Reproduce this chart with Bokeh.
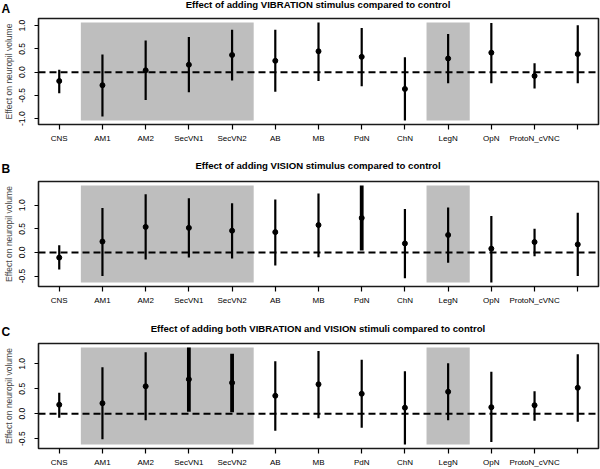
from bokeh.plotting import figure
from bokeh.layouts import column
from bokeh.models import (ColumnDataSource, FixedTicker, Range1d, Span, Div,
                          PrintfTickFormatter)
from bokeh.embed import file_html
from bokeh.resources import INLINE

# Neuropil regions (the last tick carries no label)
regions = ["CNS", "AM1", "AM2", "SecVN1", "SecVN2", "AB", "MB", "PdN",
           "ChN", "LegN", "OpN", "ProtoN_cVNC", ""]
shaded_groups = [["AM1", "AM2", "SecVN1", "SecVN2"], ["LegN"]]

# Effect estimates with lower / upper interval bounds
vib_est = [-0.19, -0.28, 0.04, 0.16, 0.37, 0.245, 0.45, 0.33, -0.36, 0.295, 0.42, -0.08, 0.39]
vib_lo = [-0.45, -0.95, -0.60, -0.43, -0.18, -0.42, -0.19, -0.30, -1.04, -0.24, -0.24, -0.35, -0.24]
vib_hi = [0.05, 0.38, 0.68, 0.755, 0.91, 0.91, 1.07, 0.95, 0.32, 0.82, 1.06, 0.19, 1.01]

vis_est = [-0.11, 0.23, 0.54, 0.52, 0.46, 0.43, 0.58, 0.73, 0.19, 0.37, 0.08, 0.22, 0.17]
vis_lo = [-0.36, -0.50, -0.15, -0.11, -0.13, -0.28, -0.10, 0.04, -0.55, -0.22, -0.64, -0.08, -0.50]
vis_hi = [0.15, 0.94, 1.23, 1.15, 1.04, 1.12, 1.25, 1.42, 0.92, 0.95, 0.77, 0.50, 0.84]

both_est = [0.18, 0.21, 0.55, 0.69, 0.62, 0.36, 0.59, 0.40, 0.12, 0.44, 0.13, 0.17, 0.52]
both_lo = [-0.08, -0.51, -0.13, 0.04, 0.03, -0.34, -0.09, -0.28, -0.62, -0.13, -0.57, -0.14, -0.16]
both_hi = [0.42, 0.93, 1.23, 1.33, 1.20, 1.05, 1.26, 1.08, 0.85, 1.01, 0.84, 0.45, 1.19]

yticks_a = [-1.0, -0.5, 0.0, 0.5, 1.0]
yticks_bc = [-0.5, 0.0, 0.5, 1.0]

FONT = "Liberation Sans"
WIDTH = 600
LEFT, RIGHT, TOP = 38, 2, 3
TITLE_PX, LETTER_PX = 9.6, 12.0
BASELINE = 0.8465  # baseline offset (em) of Liberation Sans with line-height 1


def make_header(letter, title, height, title_base, letter_base):
    """Strip above a panel: panel letter at the far left, bold heading centred on the frame."""
    title_top = title_base - BASELINE * TITLE_PX
    letter_top = letter_base - BASELINE * LETTER_PX
    font = f"font-family:'{FONT}';font-weight:bold;color:#000;"
    html = (
        f'<div style="position:relative;width:{WIDTH}px;height:{height}px;margin:0;padding:0;">'
        f'<span style="position:absolute;left:{LEFT}px;width:{WIDTH - LEFT - RIGHT}px;'
        f'top:{title_top:.2f}px;text-align:center;white-space:nowrap;{font}'
        f'font-size:{TITLE_PX}px;line-height:{TITLE_PX}px;">{title}</span>'
        f'<span style="position:absolute;left:1.5px;top:{letter_top:.2f}px;{font}'
        f'font-size:{LETTER_PX}px;line-height:{LETTER_PX}px;">{letter}</span>'
        '</div>'
    )
    return Div(text=html, width=WIDTH, height=height, margin=(0, 0, 0, 0))


def make_panel(est, lo, hi, yticks, height, border_bottom):
    n = len(regions)
    xs = list(range(1, n + 1))
    ymin, ymax = min(lo), max(hi)
    ypad = 0.04 * (ymax - ymin)
    xpad = 0.04 * (n - 1)
    p = figure(width=WIDTH, height=height, output_backend="svg", toolbar_location=None,
               x_range=Range1d(1 - xpad, n + xpad),
               y_range=Range1d(ymin - ypad, ymax + ypad),
               title_location=None,
               min_border_left=LEFT, min_border_right=RIGHT,
               min_border_top=TOP, min_border_bottom=border_bottom)
    p.xgrid.visible = False
    p.ygrid.visible = False
    p.background_fill_color = "white"
    p.border_fill_color = "white"
    p.outline_line_color = "#1a1a1a"
    p.outline_line_width = 1.6
    p.outline_line_alpha = 1.0

    # shaded blocks over grouped regions
    for grp in shaded_groups:
        idx = [regions.index(g) + 1 for g in grp]
        p.quad(left=min(idx) - 0.5, right=max(idx) + 0.5, bottom=ymin, top=ymax,
               fill_color="#bebebe", line_color=None)

    # intervals that exclude zero are drawn heavier
    sig = [(l > 0) or (h < 0) for l, h in zip(lo, hi)]
    src = ColumnDataSource(dict(x=xs, est=est, lo=lo, hi=hi,
                                w=[3.8 if s else 2.2 for s in sig]))
    p.segment(x0="x", y0="lo", x1="x", y1="hi", line_width="w",
              line_color="black", source=src)
    p.scatter(x="x", y="est", size=5, marker="circle", fill_color="black",
              line_color="black", source=src)

    p.add_layout(Span(location=0, dimension="width", line_color="black",
                      line_width=2, line_dash="7 4"))

    # axes
    xa = p.xaxis[0]
    xa.ticker = FixedTicker(ticks=xs)
    xa.major_label_overrides = {x: name for x, name in zip(xs, regions)}
    xa.axis_line_color = None
    xa.major_tick_in = 0
    xa.major_tick_out = 5
    xa.major_tick_line_width = 1.2
    xa.minor_tick_line_color = None
    xa.major_label_standoff = 4
    xa.major_label_text_font = FONT
    xa.major_label_text_font_size = "8px"
    xa.major_label_text_color = "black"

    ya = p.yaxis[0]
    ya.ticker = FixedTicker(ticks=yticks)
    ya.formatter = PrintfTickFormatter(format="%.1f")
    ya.axis_line_color = None
    ya.major_tick_in = 0
    ya.major_tick_out = 4
    ya.major_tick_line_width = 1.2
    ya.minor_tick_line_color = None
    ya.major_label_orientation = "vertical"
    ya.major_label_standoff = 9
    ya.major_label_text_font = FONT
    ya.major_label_text_font_size = "8.5px"
    ya.major_label_text_color = "black"
    ya.axis_label = "Effect on neuropil volume"
    ya.axis_label_text_font = FONT
    ya.axis_label_text_font_size = "8.5px"
    ya.axis_label_text_font_style = "normal"
    ya.axis_label_standoff = 3
    return p


ha = make_header("A", "Effect of adding VIBRATION stimulus compared to control", 15, 8.0, 12.7)
pa = make_panel(vib_est, vib_lo, vib_hi, yticks_a, 143, 34)
hb = make_header("B", "Effect of adding VISION stimulus compared to control", 20, 11.5, 15.3)
pb = make_panel(vis_est, vis_lo, vis_hi, yticks_bc, 138, 30)
hc = make_header("C", "Effect of adding both VIBRATION and VISION stimuli compared to control", 24, 16.0, 19.7)
pc = make_panel(both_est, both_lo, both_hi, yticks_bc, 129, 21)

layout = column(ha, pa, hb, pb, hc, pc, spacing=0)
open("out.html", "w").write(file_html(layout, INLINE))
